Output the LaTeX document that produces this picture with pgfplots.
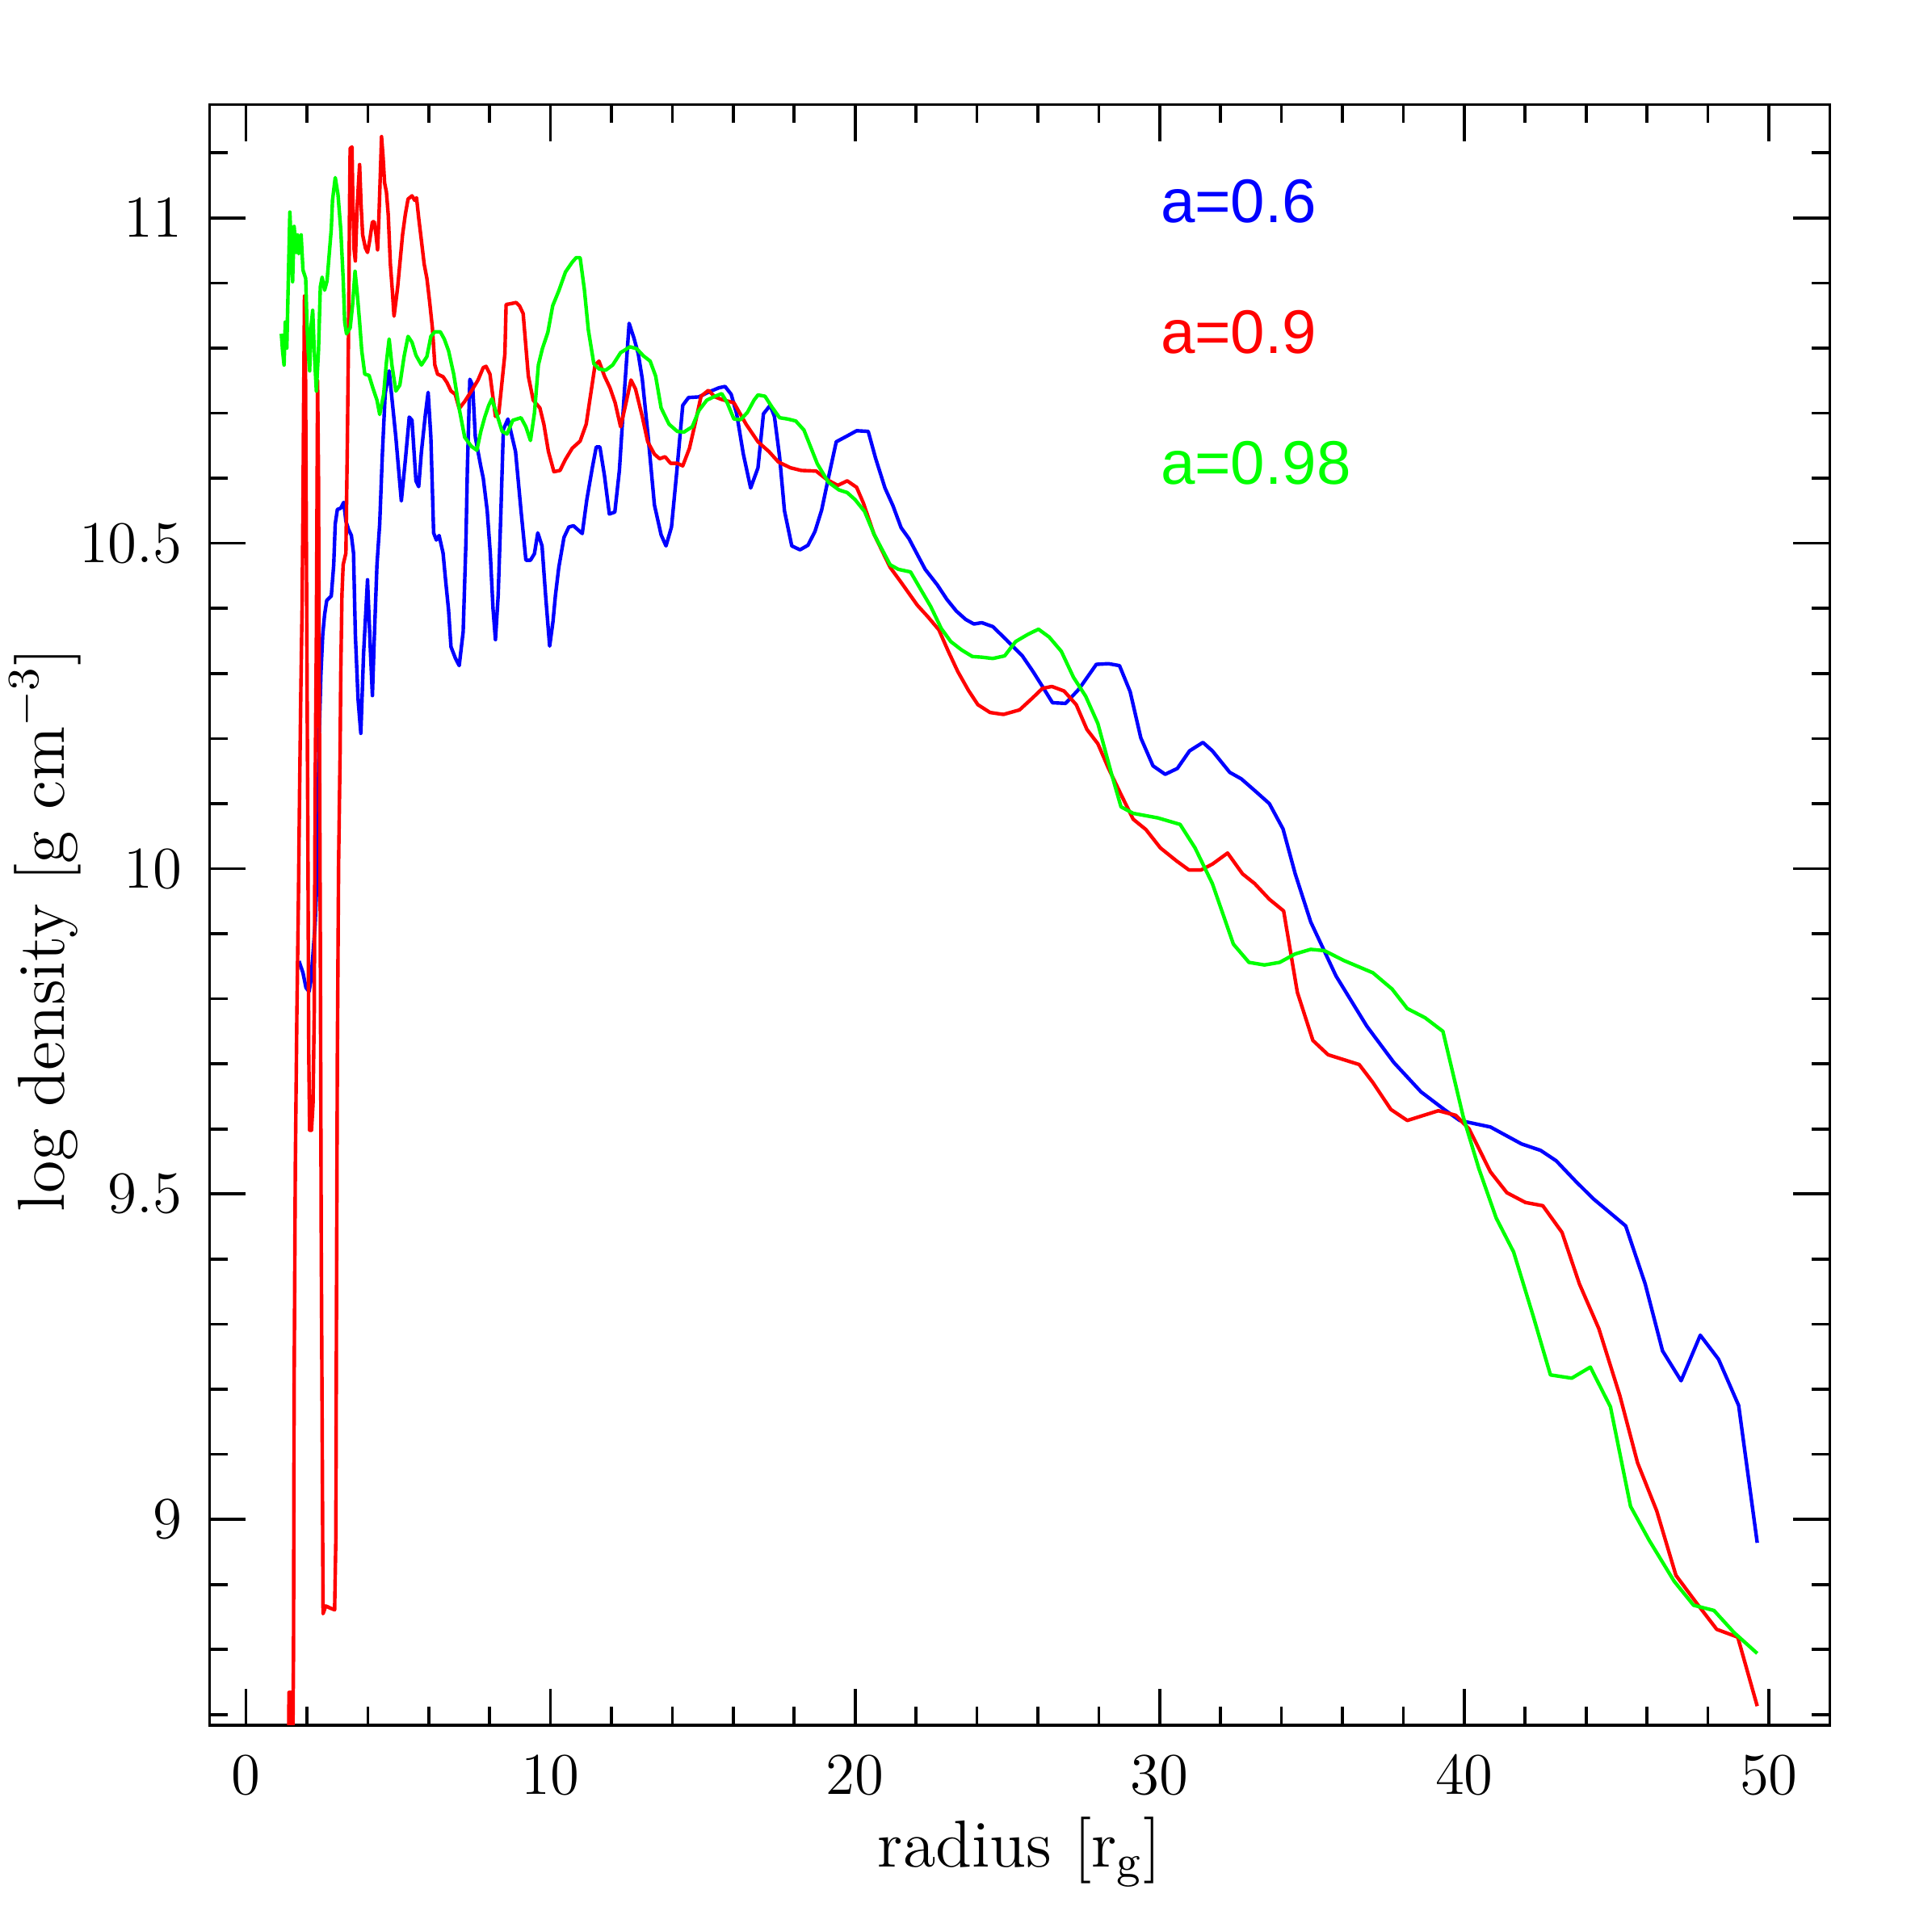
\documentclass[border=0pt]{standalone}
\usepackage{fontspec}
\usepackage{pgfplots}
\pgfplotsset{compat=1.18}
\newfontfamily\lsans{Liberation Sans}
\begin{document}
\begin{tikzpicture}
\begin{axis}[name=ax, scale only axis, width=328.75pt, height=328.75pt,
  xmin=-1.2, xmax=52, ymin=8.684, ymax=11.174,
  xtick={0,10,20,30,40,50},
  minor xtick={2,4,6,8,12,14,16,18,22,24,26,28,32,34,36,38,42,44,46,48},
  ytick={9,9.5,10,10.5,11},
  minor ytick={8.7,8.8,8.9,9.1,9.2,9.3,9.4,9.6,9.7,9.8,9.9,10.1,10.2,10.3,10.4,10.6,10.7,10.8,10.9,11.1},
  tick align=inside, xtick pos=both, ytick pos=both,
  major tick length=7.4pt, minor tick length=3.7pt,
  every tick/.style={black, line width=0.6pt},
  axis line style={line width=0.6pt},
  tick label style={font=\fontsize{12.5}{15}\selectfont},
  xticklabel style={yshift=-2.8pt},
  yticklabel style={xshift=-2pt},
  every axis plot/.append style={line width=0.72pt, line join=round, mark=none},
]
% a=0.6
\addplot[blue] coordinates {
(1.74,9.858)(1.87,9.840)(1.97,9.817)(2.07,9.811)(2.13,9.828)(2.20,9.869)(2.27,9.915)(2.33,9.984)(2.36,10.076)(2.40,10.20)(2.46,10.30)(2.52,10.36)(2.58,10.39)(2.65,10.412)(2.80,10.419)(2.88,10.467)(2.93,10.53)(3.00,10.552)(3.11,10.554)(3.21,10.563)(3.28,10.534)(3.37,10.521)(3.46,10.512)(3.53,10.485)(3.59,10.36)(3.68,10.26)(3.77,10.208)(3.86,10.33)(3.99,10.444)(4.08,10.34)(4.15,10.266)(4.21,10.352)(4.30,10.467)(4.39,10.53)(4.48,10.64)(4.57,10.73)(4.70,10.765)(4.92,10.663)(5.10,10.565)(5.23,10.627)(5.36,10.694)(5.45,10.689)(5.58,10.596)(5.67,10.587)(5.76,10.641)(5.89,10.698)(5.98,10.732)(6.07,10.663)(6.16,10.516)(6.25,10.505)(6.34,10.512)(6.47,10.485)(6.56,10.44)(6.65,10.398)(6.73,10.341)(6.87,10.324)(7.00,10.312)(7.13,10.364)(7.22,10.50)(7.27,10.618)(7.35,10.752)(7.44,10.743)(7.53,10.663)(7.71,10.618)(7.79,10.600)(7.92,10.550)(8.02,10.485)(8.11,10.40)(8.19,10.352)(8.28,10.42)(8.37,10.55)(8.45,10.675)(8.60,10.691)(8.85,10.641)(9.03,10.550)(9.19,10.474)(9.34,10.474)(9.47,10.484)(9.58,10.516)(9.72,10.496)(9.84,10.418)(9.97,10.342)(10.08,10.38)(10.16,10.42)(10.27,10.463)(10.44,10.509)(10.60,10.525)(10.75,10.527)(11.04,10.515)(11.19,10.567)(11.37,10.616)(11.50,10.648)(11.62,10.648)(11.77,10.604)(11.93,10.545)(12.11,10.548)(12.26,10.612)(12.43,10.737)(12.58,10.838)(12.74,10.815)(12.88,10.791)(13.01,10.753)(13.20,10.666)(13.41,10.559)(13.63,10.513)(13.79,10.496)(13.97,10.525)(14.14,10.608)(14.34,10.712)(14.53,10.724)(14.87,10.725)(15.22,10.733)(15.53,10.739)(15.73,10.741)(15.93,10.729)(16.11,10.699)(16.33,10.637)(16.57,10.585)(16.81,10.616)(16.99,10.699)(17.21,10.712)(17.35,10.695)(17.52,10.633)(17.68,10.550)(17.92,10.496)(18.19,10.490)(18.45,10.497)(18.68,10.518)(18.90,10.551)(19.12,10.600)(19.38,10.656)(19.74,10.665)(20.05,10.673)(20.43,10.672)(20.67,10.631)(20.98,10.585)(21.24,10.558)(21.51,10.524)(21.77,10.507)(22.04,10.483)(22.30,10.460)(22.70,10.436)(23.01,10.414)(23.32,10.396)(23.63,10.383)(23.90,10.376)(24.16,10.378)(24.52,10.372)(24.96,10.352)(25.49,10.327)(25.84,10.303)(26.15,10.280)(26.48,10.255)(26.91,10.254)(27.35,10.276)(27.92,10.314)(28.32,10.315)(28.68,10.312)(29.03,10.272)(29.38,10.201)(29.78,10.158)(30.18,10.145)(30.58,10.154)(30.98,10.181)(31.42,10.194)(31.73,10.181)(32.30,10.148)(32.68,10.138)(33.12,10.120)(33.60,10.100)(34.05,10.061)(34.45,9.992)(34.96,9.918)(35.79,9.835)(36.80,9.758)(37.69,9.702)(38.58,9.657)(39.34,9.630)(39.85,9.613)(40.86,9.603)(41.88,9.577)(42.51,9.567)(43.02,9.551)(43.65,9.520)(44.23,9.493)(45.30,9.451)(45.94,9.362)(46.51,9.259)(47.12,9.213)(47.75,9.283)(48.35,9.246)(49.01,9.175)(49.62,8.964)
};
% a=0.9
\addplot[red] coordinates {
(1.40,8.60)(1.41,8.734)(1.50,8.734)(1.52,8.55)(1.56,8.798)(1.58,9.201)(1.62,9.546)(1.67,9.776)(1.72,9.949)(1.76,10.122)(1.80,10.272)(1.84,10.398)(1.87,10.55)(1.89,10.70)(1.92,10.88)(1.95,10.80)(2.00,10.329)(2.03,10.064)(2.06,9.719)(2.09,9.598)(2.15,9.598)(2.20,9.638)(2.24,9.776)(2.27,10.122)(2.31,10.352)(2.35,10.75)(2.38,10.60)(2.40,10.352)(2.44,9.892)(2.47,9.431)(2.50,9.143)(2.53,8.855)(2.62,8.867)(2.75,8.864)(2.91,8.861)(2.95,8.971)(2.97,9.316)(3.00,9.719)(3.04,10.007)(3.09,10.180)(3.11,10.295)(3.15,10.421)(3.19,10.467)(3.28,10.485)(3.33,10.663)(3.37,10.840)(3.40,11.018)(3.42,11.107)(3.48,11.109)(3.51,11.018)(3.55,10.951)(3.59,10.934)(3.65,11.018)(3.73,11.082)(3.78,11.018)(3.83,10.974)(3.92,10.954)(3.99,10.947)(4.06,10.965)(4.15,10.994)(4.21,10.994)(4.27,10.974)(4.32,10.951)(4.36,10.996)(4.42,11.080)(4.45,11.125)(4.50,11.094)(4.55,11.054)(4.61,11.040)(4.67,11.005)(4.74,10.929)(4.81,10.885)(4.86,10.849)(4.92,10.871)(4.98,10.894)(5.05,10.929)(5.14,10.974)(5.23,11.005)(5.32,11.029)(5.45,11.034)(5.54,11.027)(5.60,11.031)(5.67,11.000)(5.76,10.965)(5.85,10.929)(5.94,10.907)(6.03,10.871)(6.12,10.831)(6.20,10.774)(6.29,10.760)(6.47,10.756)(6.60,10.747)(6.73,10.734)(6.87,10.729)(7.00,10.707)(7.18,10.718)(7.40,10.734)(7.62,10.751)(7.79,10.770)(7.88,10.772)(8.01,10.760)(8.19,10.695)(8.30,10.70)(8.50,10.791)(8.54,10.867)(8.67,10.868)(8.87,10.870)(8.98,10.865)(9.10,10.853)(9.27,10.757)(9.43,10.720)(9.65,10.708)(9.78,10.683)(9.93,10.641)(10.11,10.610)(10.31,10.612)(10.49,10.629)(10.71,10.646)(10.97,10.657)(11.17,10.683)(11.33,10.733)(11.46,10.774)(11.59,10.780)(11.77,10.757)(11.95,10.739)(12.12,10.716)(12.30,10.679)(12.46,10.712)(12.64,10.751)(12.79,10.737)(13.01,10.695)(13.19,10.656)(13.41,10.637)(13.58,10.630)(13.76,10.633)(13.94,10.623)(14.16,10.623)(14.34,10.619)(14.56,10.646)(14.78,10.691)(14.94,10.726)(15.18,10.735)(15.40,10.725)(15.62,10.721)(16.02,10.716)(16.42,10.683)(16.81,10.656)(17.17,10.641)(17.48,10.625)(17.88,10.616)(18.23,10.612)(18.72,10.611)(19.07,10.598)(19.43,10.589)(19.74,10.596)(20.05,10.586)(20.27,10.562)(20.62,10.514)(21.15,10.463)(21.51,10.440)(22.04,10.405)(22.39,10.387)(22.75,10.367)(23.06,10.334)(23.37,10.303)(23.72,10.274)(24.03,10.252)(24.43,10.240)(24.87,10.237)(25.40,10.244)(25.84,10.263)(26.15,10.277)(26.46,10.280)(26.86,10.273)(27.26,10.252)(27.61,10.214)(27.97,10.192)(28.32,10.154)(28.73,10.114)(29.13,10.076)(29.55,10.060)(30.02,10.032)(30.55,10.012)(30.96,9.998)(31.36,9.998)(31.73,10.007)(32.23,10.024)(32.72,9.992)(33.12,9.977)(33.60,9.953)(34.07,9.935)(34.52,9.810)(35.03,9.736)(35.53,9.714)(36.55,9.699)(36.99,9.672)(37.59,9.630)(38.13,9.613)(39.15,9.628)(39.72,9.621)(40.16,9.600)(40.86,9.534)(41.40,9.502)(42.01,9.487)(42.58,9.482)(43.21,9.441)(43.78,9.362)(44.42,9.293)(45.11,9.190)(45.69,9.087)(46.32,9.013)(46.95,8.914)(47.65,8.870)(48.29,8.831)(48.98,8.819)(49.62,8.713)
};
% a=0.98
\addplot[color={rgb,255:red,0;green,255;blue,0}] coordinates {
(1.16,10.822)(1.20,10.796)(1.25,10.774)(1.29,10.840)(1.34,10.800)(1.38,10.885)(1.44,11.009)(1.49,10.951)(1.53,10.902)(1.58,10.987)(1.65,10.947)(1.69,10.974)(1.73,10.945)(1.81,10.974)(1.87,10.920)(1.96,10.907)(2.00,10.840)(2.04,10.796)(2.09,10.765)(2.13,10.831)(2.19,10.858)(2.24,10.796)(2.31,10.734)(2.38,10.796)(2.44,10.894)(2.50,10.909)(2.58,10.889)(2.66,10.903)(2.73,10.943)(2.80,10.983)(2.84,11.027)(2.93,11.062)(3.02,11.036)(3.11,10.983)(3.19,10.907)(3.24,10.840)(3.30,10.822)(3.42,10.831)(3.50,10.867)(3.58,10.918)(3.65,10.885)(3.73,10.840)(3.80,10.796)(3.90,10.760)(4.04,10.758)(4.17,10.738)(4.30,10.720)(4.39,10.698)(4.52,10.729)(4.61,10.778)(4.70,10.814)(4.79,10.774)(4.92,10.734)(5.05,10.743)(5.19,10.787)(5.32,10.818)(5.45,10.809)(5.58,10.789)(5.76,10.774)(5.94,10.787)(6.07,10.818)(6.20,10.825)(6.38,10.825)(6.51,10.814)(6.65,10.796)(6.82,10.760)(7.00,10.707)(7.18,10.663)(7.40,10.649)(7.58,10.643)(7.71,10.672)(7.84,10.694)(7.97,10.712)(8.07,10.722)(8.23,10.699)(8.41,10.672)(8.57,10.668)(8.76,10.689)(9.03,10.693)(9.19,10.679)(9.34,10.658)(9.47,10.700)(9.60,10.774)(9.73,10.799)(9.91,10.824)(10.07,10.865)(10.27,10.888)(10.49,10.917)(10.71,10.932)(10.84,10.939)(10.97,10.939)(11.11,10.890)(11.24,10.828)(11.42,10.776)(11.59,10.768)(11.81,10.766)(12.04,10.774)(12.30,10.793)(12.61,10.802)(12.83,10.799)(13.05,10.788)(13.27,10.780)(13.45,10.757)(13.63,10.708)(13.89,10.683)(14.16,10.672)(14.38,10.671)(14.65,10.679)(14.87,10.704)(15.13,10.720)(15.40,10.726)(15.62,10.730)(15.80,10.716)(16.02,10.691)(16.24,10.690)(16.46,10.701)(16.68,10.720)(16.81,10.728)(17.04,10.726)(17.26,10.710)(17.52,10.693)(17.79,10.691)(18.05,10.688)(18.32,10.674)(18.76,10.622)(19.12,10.594)(19.47,10.582)(19.74,10.578)(20.00,10.567)(20.31,10.549)(20.62,10.514)(21.15,10.467)(21.42,10.460)(21.82,10.456)(22.13,10.431)(22.48,10.403)(22.83,10.369)(23.14,10.349)(23.50,10.336)(23.85,10.326)(24.16,10.325)(24.52,10.323)(24.91,10.327)(25.27,10.349)(25.67,10.360)(26.02,10.368)(26.37,10.356)(26.77,10.334)(27.17,10.294)(27.57,10.265)(27.97,10.223)(28.41,10.147)(28.73,10.095)(29.13,10.085)(29.94,10.078)(30.67,10.068)(31.16,10.032)(31.73,9.977)(32.42,9.884)(32.93,9.856)(33.44,9.852)(33.94,9.856)(34.45,9.869)(34.96,9.876)(35.41,9.874)(36.04,9.859)(37.00,9.840)(37.63,9.815)(38.13,9.785)(38.71,9.771)(39.30,9.750)(39.97,9.618)(40.48,9.539)(41.05,9.463)(41.62,9.411)(42.26,9.313)(42.83,9.222)(43.53,9.217)(44.14,9.234)(44.80,9.173)(45.46,9.020)(46.07,8.968)(46.89,8.905)(47.53,8.868)(48.20,8.860)(48.86,8.826)(49.62,8.794)
};
\node[anchor=west, inner sep=0pt, text=blue, font=\lsans\fontsize{12.5}{15}\selectfont] at (axis cs:30,11.026) {a=0.6};
\node[anchor=west, inner sep=0pt, text=red, font=\lsans\fontsize{12.5}{15}\selectfont] at (axis cs:30,10.825) {a=0.9};
\node[anchor=west, inner sep=0pt, text={rgb,255:red,0;green,255;blue,0}, font=\lsans\fontsize{12.5}{15}\selectfont] at (axis cs:30,10.624) {a=0.98};
\end{axis}
\path (ax.south) ++(0,-28.75pt) node[anchor=base, inner sep=0pt, font=\fontsize{13.5}{16}\selectfont] {radius [r$_{\rm g}$]};
\path (ax.west) ++(-29.5pt,-3pt) node[rotate=90, anchor=base, inner sep=0pt, font=\fontsize{13.5}{16}\selectfont] {log density [g cm$^{-3}$]};
\pgfresetboundingbox
\path[use as bounding box] ([shift={(-42.5pt,-42pt)}]ax.south west) rectangle ([shift={(20.75pt,21.25pt)}]ax.north east);
\end{tikzpicture}
\end{document}
